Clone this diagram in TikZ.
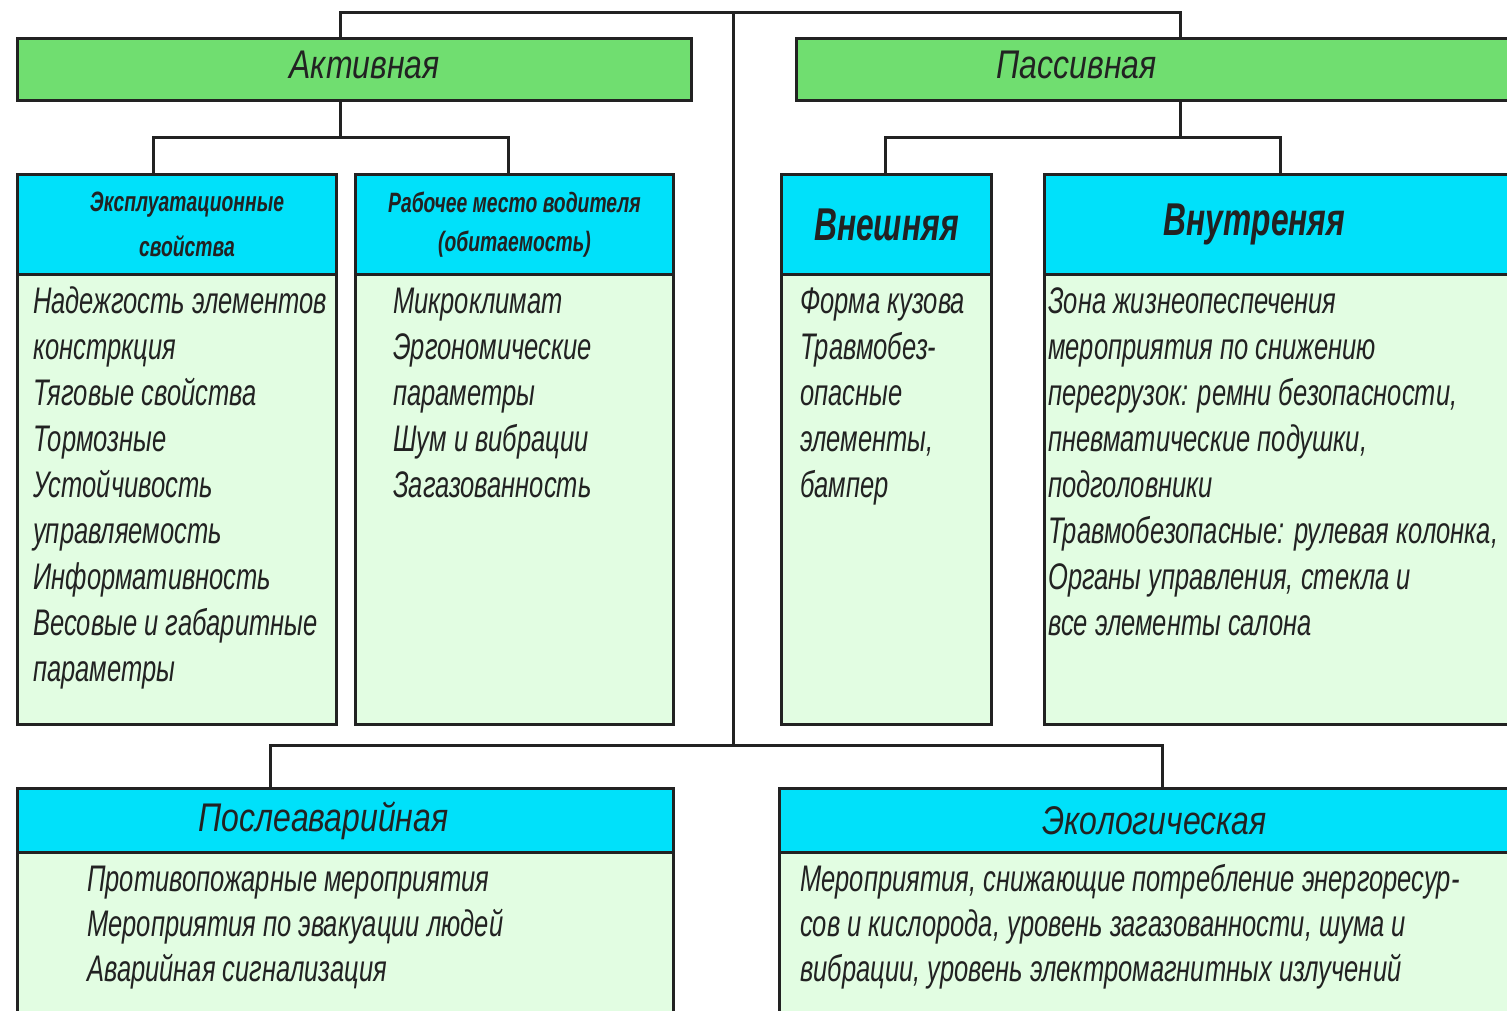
\documentclass[tikz,border=0pt]{standalone}
\usepackage{fontspec}
\setmainfont{Liberation Sans}[FakeStretch=0.69]
\newfontfamily\gosthead{Liberation Sans}[FakeStretch=0.8]
\usetikzlibrary{calc}
\definecolor{hgreen}{RGB}{112,222,112}
\definecolor{hcyan}{RGB}{0,225,250}
\definecolor{bgreen}{RGB}{226,253,226}
\definecolor{ink}{RGB}{34,34,34}
\tikzset{
  box/.style={draw=ink, line width=3pt, anchor=north west, inner sep=0pt, text=ink},
  greenbox/.style={box, fill=hgreen, minimum height=62pt, font=\gosthead\itshape\fontsize{40}{44}\selectfont},
  cyanbox/.style={box, fill=hcyan, minimum height=100pt},
  cyanlow/.style={box, fill=hcyan, minimum height=64pt, font=\gosthead\itshape\fontsize{40}{44}\selectfont},
  bodybox/.style={box, fill=bgreen},
  smallhead/.style={font=\bfseries\itshape\fontsize{28}{43}\selectfont, align=center},
  bighead/.style={font=\bfseries\itshape\fontsize{46}{50}\selectfont},
  txt/.style={anchor=base west, inner sep=0pt, text=ink, font=\itshape\fontsize{37}{44}\selectfont},
  conn/.style={draw=ink, line width=3pt}
}
\begin{document}
\begin{tikzpicture}[x=1pt,y=-1pt]
\clip (0,0) rectangle (1507,1011);
\fill[white] (0,0) rectangle (1507,1011);
% top level
\node[greenbox, minimum width=674pt] (act) at (16,37) {\hspace*{20pt}\raisebox{9pt}{Активная}};
\node[greenbox, minimum width=740pt] (pas) at (795,37) {\hspace*{-180pt}\raisebox{9pt}{Пассивная}};
% active children
\node[cyanbox, smallhead, minimum width=319pt] (e1h) at (16,173) {\hspace*{20pt}\raisebox{-15pt}{\shortstack{Эксплуатационные\\[15pt]свойства}}};
\node[bodybox, minimum width=319pt, minimum height=450pt] (e1b) at (16,273) {};
\node[cyanbox, smallhead, minimum width=318pt] (e2h) at (354,173) {\raisebox{-15pt}{\shortstack{Рабочее место водителя\\[15pt](обитаемость)}}};
\node[bodybox, minimum width=318pt, minimum height=450pt] (e2b) at (354,273) {};
% passive children
\node[cyanbox, bighead, minimum width=210pt] (p1h) at (780,173) {Внешняя};
\node[bodybox, minimum width=210pt, minimum height=450pt] (p1b) at (780,273) {};
\node[cyanbox, bighead, minimum width=510pt] (p2h) at (1043,173) {\hspace*{-90pt}Внутреняя};
\node[bodybox, minimum width=510pt, minimum height=450pt] (p2b) at (1043,273) {};
% bottom
\node[cyanlow, minimum width=656pt] (lh) at (16,787) {\hspace*{-44pt}Послеаварийная};
\node[bodybox, minimum width=656pt, minimum height=220pt] (lb) at (16,851) {};
\node[cyanlow, minimum width=770pt] (rh) at (778,787) {\hspace*{-20pt}Экологическая};
\node[bodybox, minimum width=770pt, minimum height=220pt] (rb) at (778,851) {};
% connectors
\coordinate (jtop) at (733,13);
\coordinate (jbot) at (733,745);
\coordinate (ja) at (340,138);
\coordinate (jp) at (1180,138);
\draw[conn] ([xshift=324pt]act.north west) |- (jtop) -| ([xshift=385pt]pas.north west);
\draw[conn] (jtop) -- (jbot);
\draw[conn] ([xshift=254pt]lh.north west) |- (jbot) -| ([xshift=384pt]rh.north west);
\draw[conn] ([xshift=324pt]act.south west) -- (ja);
\draw[conn] ([xshift=137pt]e1h.north west) |- (ja) -| ([xshift=154pt]e2h.north west);
\draw[conn] ([xshift=385pt]pas.south west) -- (jp);
\draw[conn] ([xshift=105pt]p1h.north west) |- (jp) -| ([xshift=237pt]p2h.north west);
% column 1 text
\node[txt] (a1) at (33,313) {Надежгость элементов};
\node[txt] (a2) at (33,359) {констркция};
\node[txt] (a3) at (33,405) {Тяговые свойства};
\node[txt] (a4) at (33,451) {Тормозные};
\node[txt] (a5) at (33,497) {Устойчивость};
\node[txt] (a6) at (33,543) {управляемость};
\node[txt] (a7) at (33,589) {Информативность};
\node[txt] (a8) at (33,635) {Весовые и габаритные};
\node[txt] (a9) at (33,681) {параметры};
% column 2 text
\node[txt] (b1) at (393,313) {Микроклимат};
\node[txt] (b2) at (393,359) {Эргономические};
\node[txt] (b3) at (393,405) {параметры};
\node[txt] (b4) at (393,451) {Шум и вибрации};
\node[txt] (b5) at (393,497) {Загазованность};
% column 3 text
\node[txt] (c1) at (800,313) {Форма кузова};
\node[txt] (c2) at (800,359) {Травмобез-};
\node[txt] (c3) at (800,405) {опасные};
\node[txt] (c4) at (800,451) {элементы,};
\node[txt] (c5) at (800,497) {бампер};
% column 4 text
\node[txt] (d1) at (1048,313) {Зона жизнеопеспечения};
\node[txt] (d2) at (1048,359) {мероприятия по снижению};
\node[txt] (d3) at (1048,405) {перегрузок: ремни безопасности,};
\node[txt] (d4) at (1048,451) {пневматические подушки,};
\node[txt] (d5) at (1048,497) {подголовники};
\node[txt] (d6) at (1048,543) {Травмобезопасные: рулевая колонка,};
\node[txt] (d7) at (1048,589) {Органы управления, стекла и};
\node[txt] (d8) at (1048,635) {все элементы салона};
% bottom left text
\node[txt] (e1) at (87,891) {Противопожарные мероприятия};
\node[txt] (e2) at (87,936) {Мероприятия по эвакуации людей};
\node[txt] (e3) at (87,981) {Аварийная сигнализация};
% bottom right text
\node[txt] (f1) at (800,891) {Мероприятия, снижающие потребление энергоресур-};
\node[txt] (f2) at (800,936) {сов и кислорода, уровень загазованности, шума и};
\node[txt] (f3) at (800,981) {вибрации, уровень электромагнитных излучений};
\end{tikzpicture}
\end{document}
